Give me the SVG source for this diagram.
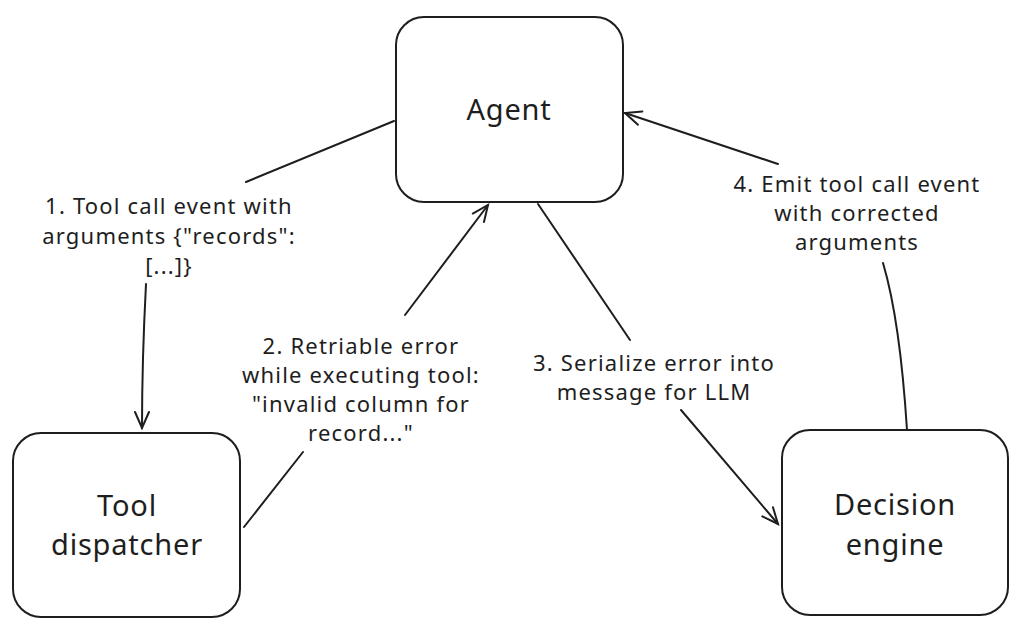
<svg xmlns="http://www.w3.org/2000/svg" width="1024" height="639" viewBox="0 0 1024 639">
<style>
.box{fill:#fff;stroke:#1e1e1e;stroke-width:2}
.node{font-family:"Noto Sans","DejaVu Sans",sans-serif;font-size:29px;letter-spacing:0.8px;fill:#1e1e1e;text-anchor:middle;dominant-baseline:central}
.lbl{font-family:"Noto Sans","DejaVu Sans",sans-serif;font-size:22px;letter-spacing:1.2px;fill:#1e1e1e;text-anchor:middle;dominant-baseline:central}
.edge{fill:none;stroke:#1e1e1e;stroke-width:2;stroke-linecap:round}
</style>
<defs>
<marker id="arr" markerUnits="userSpaceOnUse" markerWidth="24" markerHeight="24" refX="18" refY="9" orient="auto" viewBox="0 0 24 18">
<path d="M2,2 L18,9 L2,16" fill="none" stroke="#1e1e1e" stroke-width="2" stroke-linecap="round"/>
</marker>
</defs>
<rect width="1024" height="639" fill="#fff"/>
<g id="connectors">
<path class="edge" d="M394,121 L246,182"/>
<path class="edge" d="M146,284 Q142,360 142,428" marker-end="url(#arr)"/>
<path class="edge" d="M244,527 L303,452"/>
<path class="edge" d="M405,315 L488,205" marker-end="url(#arr)"/>
<path class="edge" d="M538,204 L630,340"/>
<path class="edge" d="M681,410 L778,524" marker-end="url(#arr)"/>
<path class="edge" d="M907,430 Q900,320 883,263"/>
<path class="edge" d="M778,164 L625,113" marker-end="url(#arr)"/>
<g id="label-1">
<text class="lbl" x="169" y="205">1. Tool call event with</text>
<text class="lbl" x="169" y="235">arguments {"records":</text>
<text class="lbl" x="169" y="265">[...]}</text>
</g>
<g id="label-2">
<text class="lbl" x="361" y="345">2. Retriable error</text>
<text class="lbl" x="361" y="374">while executing tool:</text>
<text class="lbl" x="361" y="403">"invalid column for</text>
<text class="lbl" x="361" y="432">record..."</text>
</g>
<g id="label-3">
<text class="lbl" x="654" y="362">3. Serialize error into</text>
<text class="lbl" x="654" y="391">message for LLM</text>
</g>
<g id="label-4">
<text class="lbl" x="857" y="183">4. Emit tool call event</text>
<text class="lbl" x="857" y="212">with corrected</text>
<text class="lbl" x="857" y="241">arguments</text>
</g>
</g>
<g id="agent">
<rect class="box" x="396" y="17" width="227" height="185" rx="28"/>
<text class="node" x="509" y="108">Agent</text>
</g>
<g id="tool-dispatcher">
<rect class="box" x="13" y="433" width="227" height="184" rx="28"/>
<text class="node" x="127" y="504">Tool</text>
<text class="node" x="127" y="543">dispatcher</text>
</g>
<g id="decision-engine">
<rect class="box" x="782" y="430" width="226" height="185" rx="28"/>
<text class="node" x="895" y="503">Decision</text>
<text class="node" x="895" y="543">engine</text>
</g>
</svg>
